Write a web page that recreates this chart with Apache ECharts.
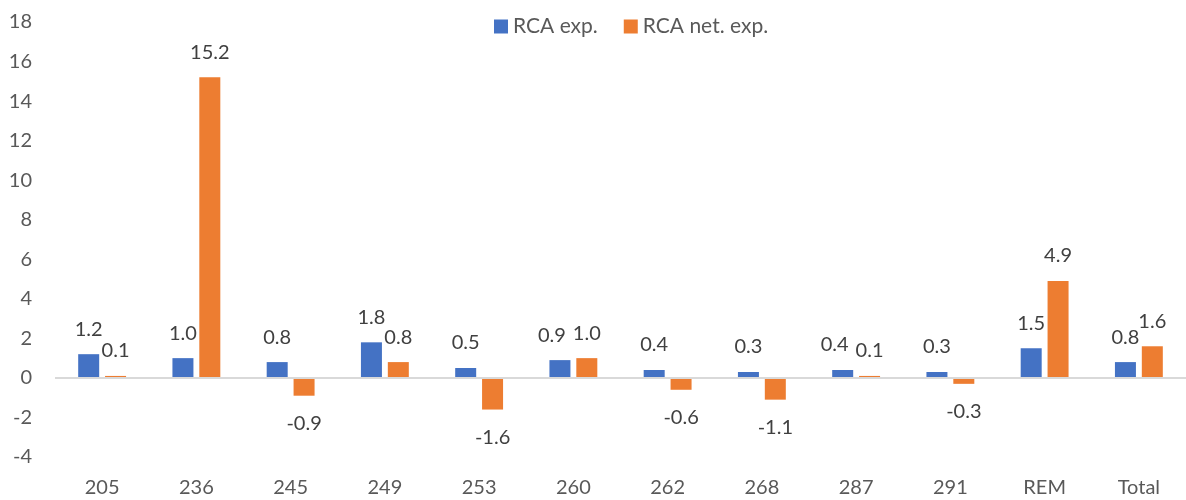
<!DOCTYPE html>
<html><head><meta charset="utf-8">
<script src="https://cdn.jsdelivr.net/npm/echarts@6/dist/echarts.min.js"></script>
<style>html,body{margin:0;padding:0;background:#fff}#c{width:1186px;height:500px}</style>
</head><body><div id="c"></div>
<script>
const categories = ['205','236','245','249','253','260','262','268','287','291','REM','Total'];
const rcaExp = [1.2,1.0,0.8,1.8,0.5,0.9,0.4,0.3,0.4,0.3,1.5,0.8];
const rcaNetExp = [0.1,15.2,-0.9,0.8,-1.6,1.0,-0.6,-1.1,0.1,-0.3,4.9,1.6];
const seriesNames = ['RCA exp.','RCA net. exp.'];
const yTicks = {min:-4, max:18, interval:2};

const FONT = 'Lato';
// label placement: outside end; nudge the first label left when both labels of a category would collide
function mk(vals, other, nudge){
  return vals.map((v,i) => {
    const close = nudge && v >= 0 && other[i] >= 0 && Math.abs(v - other[i]) < 0.5;
    return {value:v, label:{position: v<0 ? 'bottom' : 'top', distance: v<0 ? 18 : 15,
      offset: close ? [-8,0] : [0,0]}};
  });
}
const chart = echarts.init(document.getElementById('c'));
chart.setOption({
  animation:false,
  textStyle:{fontFamily:FONT},
  legend:{top:11, left:489, itemWidth:14, itemHeight:14, itemGap:26,
    textStyle:{fontSize:21, color:'#595959', fontFamily:FONT},
    data:[{name:seriesNames[0], icon:'rect'},{name:seriesNames[1], icon:'rect'}]},
  grid:{left:55, top:22, width:1138, bottom:43},
  xAxis:{type:'category', data:categories, axisLine:{show:false}, axisTick:{show:false},
    axisLabel:{fontSize:20, color:'#595959', margin:21, fontFamily:FONT}},
  yAxis:{type:'value', min:yTicks.min, max:yTicks.max, interval:yTicks.interval,
    splitLine:{show:false}, axisLine:{show:false}, axisTick:{show:false},
    axisLabel:{fontSize:20, color:'#595959', margin:23, fontFamily:FONT}},
  series:[
    {name:seriesNames[0], type:'bar', data:mk(rcaExp, rcaNetExp, true), barWidth:21, barGap:'28%',
     itemStyle:{color:'#4472C4'},
     label:{show:true, fontSize:20, color:'#404040', fontFamily:FONT, formatter:p=>p.value.toFixed(1)},
     markLine:{silent:true, symbol:'none', label:{show:false}, lineStyle:{color:'#D9D9D9', width:2, type:'solid'}, data:[{yAxis:0}]},
     z:3},
    {name:seriesNames[1], type:'bar', data:mk(rcaNetExp, rcaExp, false), barWidth:21,
     itemStyle:{color:'#ED7D31'},
     label:{show:true, fontSize:20, color:'#404040', fontFamily:FONT, formatter:p=>p.value.toFixed(1)},
     z:3}
  ]
});
</script></body></html>
